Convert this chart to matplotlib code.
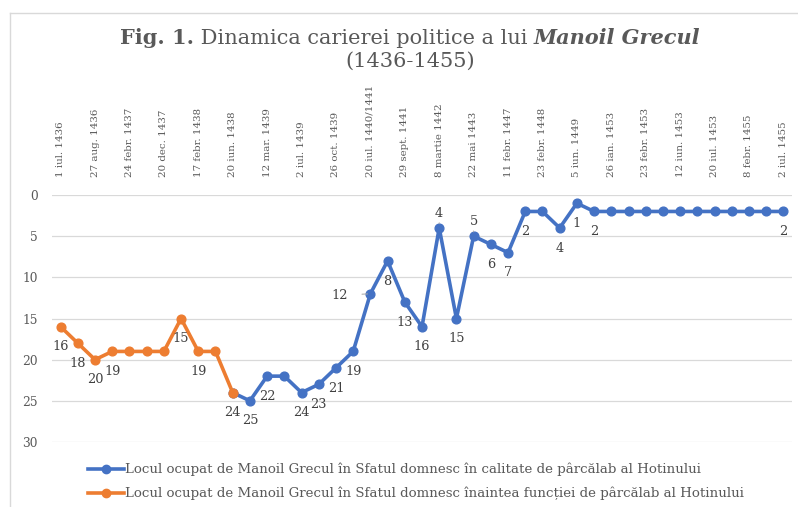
import numpy as np
import matplotlib
matplotlib.use("Agg")
import matplotlib.pyplot as plt
from matplotlib.lines import Line2D

# ---------------- data ----------------
tick_labels = ["1 iul. 1436", "27 aug. 1436", "24 febr. 1437", "20 dec. 1437",
               "17 febr. 1438", "20 iun. 1438", "12 mar. 1439", "2 iul. 1439",
               "26 oct. 1439", "20 iul. 1440/1441", "29 sept. 1441", "8 martie 1442",
               "22 mai 1443", "11 febr. 1447", "23 febr. 1448", "5 iun. 1449",
               "26 ian. 1453", "23 febr. 1453", "12 iun. 1453", "20 iul. 1453",
               "8 febr. 1455", "2 iul. 1455"]
n_points = 43

before_start = 0
before_values = [16, 18, 20, 19, 19, 19, 19, 15, 19, 19, 24]

after_start = 10
after_values = [24, 25, 22, 22, 24, 23, 21, 19, 12, 8, 13, 16, 4, 15, 5, 6, 7,
                2, 2, 4, 1, 2, 2, 2, 2, 2, 2, 2, 2, 2, 2, 2, 2]

before_label = "Locul ocupat de Manoil Grecul în Sfatul domnesc înaintea funcției de pârcălab al Hotinului"
after_label = "Locul ocupat de Manoil Grecul în Sfatul domnesc în calitate de pârcălab al Hotinului"

# indices with data labels and where the label sits
labelled_before = [0, 1, 2, 3, 7, 8, 10]
labelled_after = [11, 12, 14, 15, 16, 17, 18, 19, 20, 21, 22, 23, 24, 25, 26,
                  27, 29, 30, 31, 42]
label_pos = {18: "left", 22: "above", 24: "above"}

# ---------------- style ----------------
BLUE = "#4472C4"
ORANGE = "#ED7D31"
TXT = "#595959"
LBL = "#404040"
GRID = "#D9D9D9"
FONT = "DejaVu Serif"

plt.rcParams["font.family"] = [FONT, "DejaVu Sans"]

W, H = 798, 507
fig = plt.figure(figsize=(W / 100, H / 100), dpi=100)
ax = fig.add_axes([52 / W, 1 - 442 / H, (792 - 52) / W, (442 - 195) / H])

x_all = np.arange(n_points)
before = np.full(n_points, np.nan)
before[before_start:before_start + len(before_values)] = before_values
after = np.full(n_points, np.nan)
after[after_start:after_start + len(after_values)] = after_values

ax.plot(x_all, after, color=BLUE, lw=2.6, marker="o", ms=6.3,
        solid_joinstyle="round", label=after_label, zorder=3)
ax.plot(x_all, before, color=ORANGE, lw=2.6, marker="o", ms=6.3,
        solid_joinstyle="round", label=before_label, zorder=4)

ax.set_xlim(-0.5, n_points - 0.5)
ax.set_ylim(30, 0)
ax.set_yticks(range(0, 31, 5))
ax.yaxis.grid(True, color=GRID, lw=0.9)
ax.set_axisbelow(True)
for s in ax.spines.values():
    s.set_visible(False)

ax.xaxis.tick_top()
ax.set_xticks(range(0, n_points, 2))
ax.set_xticklabels(tick_labels, rotation=90, fontsize=7.4, color=TXT)
ax.tick_params(axis="x", length=0, pad=13)
ax.tick_params(axis="y", length=0, pad=10, labelsize=8.8, labelcolor=TXT)

LSIZE = 9.3


def add_label(i, v):
    pos = label_pos.get(i, "below")
    txt = f"{int(v)}"
    if pos == "below":
        ax.annotate(txt, (i, v), xytext=(0, -14.5), textcoords="offset points",
                    ha="center", va="center", fontsize=LSIZE, color=LBL, zorder=5)
    elif pos == "above":
        ax.annotate(txt, (i, v), xytext=(0, 10.5), textcoords="offset points",
                    ha="center", va="center", fontsize=LSIZE, color=LBL, zorder=5,
                    arrowprops=dict(arrowstyle="-", color="#A6A6A6", lw=0.6,
                                    shrinkA=4, shrinkB=3))
    else:
        ax.annotate(txt, (i, v), xytext=(-22, -1), textcoords="offset points",
                    ha="center", va="center", fontsize=LSIZE, color=LBL, zorder=5,
                    arrowprops=dict(arrowstyle="-", color="#A6A6A6", lw=0.7,
                                    shrinkA=8, shrinkB=2))


for i in labelled_before:
    add_label(i, before[i])
for i in labelled_after:
    add_label(i, after[i])

# legend
handles = [Line2D([], [], color=BLUE, lw=2.6, marker="o", ms=6),
           Line2D([], [], color=ORANGE, lw=2.6, marker="o", ms=6)]
fig.legend(handles, [after_label, before_label], loc="upper left",
           bbox_to_anchor=(88 / W, 1 - 463 / H), frameon=False, fontsize=9.6,
           labelcolor=TXT, handlelength=2.7, handletextpad=0.1,
           borderpad=0, borderaxespad=0, labelspacing=0.78)

# chart border (top and left visible)
fig.add_artist(Line2D([10 / W, 1.01], [1 - 13 / H, 1 - 13 / H],
                      transform=fig.transFigure, color=GRID, lw=1))
fig.add_artist(Line2D([10 / W, 10 / W], [1 - 13 / H, -0.01],
                      transform=fig.transFigure, color=GRID, lw=1))

# title with mixed styles
renderer = fig.canvas.get_renderer()
parts = [("Fig. 1.", "bold", "normal"),
         (" Dinamica carierei politice a lui ", "normal", "normal"),
         ("Manoil Grecul", "bold", "italic")]
tsize = 15.0
texts = []
for s, w, st in parts:
    t = fig.text(0, 1 - 44 / H, s, fontsize=tsize, fontweight=w, fontstyle=st,
                 color=TXT, ha="left", va="baseline")
    texts.append(t)
widths = [t.get_window_extent(renderer).width for t in texts]
cx = 410
x0 = cx - sum(widths) / 2
for t, w in zip(texts, widths):
    t.set_x(x0 / W)
    x0 += w
fig.text(cx / W, 1 - 67 / H, "(1436-1455)", fontsize=tsize, color=TXT,
         ha="center", va="baseline")

fig.savefig("out.png", dpi=100)
